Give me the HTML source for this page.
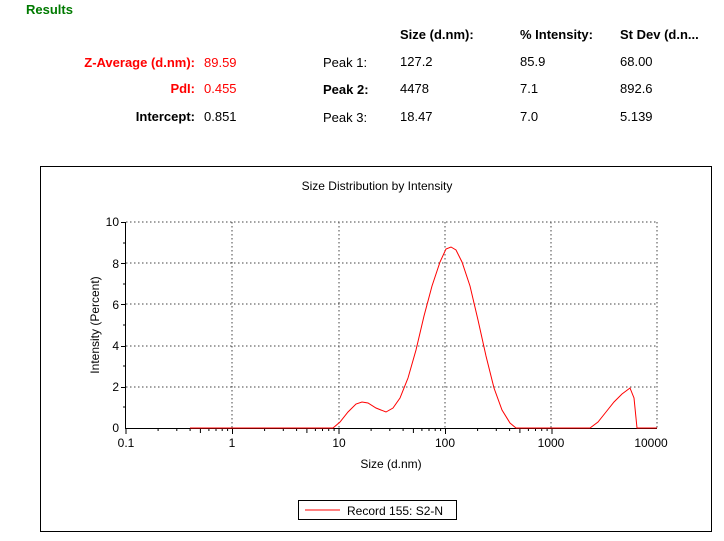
<!DOCTYPE html><html><head><style>body{margin:0;background:#fff;width:724px;height:541px;overflow:hidden;font-family:"Liberation Sans",Arial,sans-serif}
.t{position:absolute;font-size:13px;white-space:nowrap}
.b{font-weight:bold}.r{color:#f00}
</style></head><body>
<div class="t b" style="left:26px;top:2px;color:#007a00">Results</div>
<div class="t b" style="left:400px;top:27px">Size (d.nm):</div>
<div class="t b" style="left:520px;top:27px">% Intensity:</div>
<div class="t b" style="left:620px;top:27px">St Dev (d.n...</div>
<div class="t b r" style="right:529px;top:55px">Z-Average (d.nm):</div>
<div class="t r" style="left:204px;top:55px">89.59</div>
<div class="t b r" style="right:529px;top:81px">PdI:</div>
<div class="t r" style="left:204px;top:81px">0.455</div>
<div class="t b" style="right:529px;top:109px">Intercept:</div>
<div class="t" style="left:204px;top:109px">0.851</div>
<div class="t" style="left:323px;top:55px">Peak 1:</div>
<div class="t b" style="left:323px;top:82px">Peak 2:</div>
<div class="t" style="left:323px;top:110px">Peak 3:</div>
<div class="t" style="left:400px;top:54px">127.2</div><div class="t" style="left:520px;top:54px">85.9</div><div class="t" style="left:620px;top:54px">68.00</div>
<div class="t" style="left:400px;top:81px">4478</div><div class="t" style="left:520px;top:81px">7.1</div><div class="t" style="left:620px;top:81px">892.6</div>
<div class="t" style="left:400px;top:109px">18.47</div><div class="t" style="left:520px;top:109px">7.0</div><div class="t" style="left:620px;top:109px">5.139</div>
<svg style="position:absolute;left:0;top:0" width="724" height="541" font-family="Liberation Sans,Arial,sans-serif" font-size="12">
<rect x="40.5" y="166.5" width="671" height="365" fill="none" stroke="#000"/>
<text x="377" y="190" text-anchor="middle">Size Distribution by Intensity</text>
<g stroke="#444" stroke-dasharray="1.5,2.5" fill="none">
<path d="M126 222H657M126 263H657M126 304H657M126 346H657M126 387H657M232 222V428M339 222V428M445 222V428M551 222V428M657 222V428"/>
</g>
<g stroke="#000" fill="none">
<path d="M125.5 222V428.5H657"/>
<path d="M121 222.5h5M121 263.5h5M121 304.5h5M121 346.5h5M121 387.5h5M123 243h3M123 284h3M123 325h3M123 366h3M123 407h3"/>
</g>
<g stroke="#000">
<line x1="158.1" y1="428" x2="158.1" y2="431"/><line x1="176.8" y1="428" x2="176.8" y2="431"/><line x1="190.1" y1="428" x2="190.1" y2="431"/><line x1="200.4" y1="428" x2="200.4" y2="433"/><line x1="208.9" y1="428" x2="208.9" y2="431"/><line x1="216.0" y1="428" x2="216.0" y2="431"/><line x1="222.2" y1="428" x2="222.2" y2="431"/><line x1="227.6" y1="428" x2="227.6" y2="431"/>
<line x1="264.6" y1="428" x2="264.6" y2="431"/><line x1="283.3" y1="428" x2="283.3" y2="431"/><line x1="296.6" y1="428" x2="296.6" y2="431"/><line x1="306.9" y1="428" x2="306.9" y2="433"/><line x1="315.4" y1="428" x2="315.4" y2="431"/><line x1="322.5" y1="428" x2="322.5" y2="431"/><line x1="328.7" y1="428" x2="328.7" y2="431"/><line x1="334.1" y1="428" x2="334.1" y2="431"/>
<line x1="371.1" y1="428" x2="371.1" y2="431"/><line x1="389.8" y1="428" x2="389.8" y2="431"/><line x1="403.1" y1="428" x2="403.1" y2="431"/><line x1="413.4" y1="428" x2="413.4" y2="433"/><line x1="421.9" y1="428" x2="421.9" y2="431"/><line x1="429.0" y1="428" x2="429.0" y2="431"/><line x1="435.2" y1="428" x2="435.2" y2="431"/><line x1="440.6" y1="428" x2="440.6" y2="431"/>
<line x1="477.6" y1="428" x2="477.6" y2="431"/><line x1="496.3" y1="428" x2="496.3" y2="431"/><line x1="509.6" y1="428" x2="509.6" y2="431"/><line x1="519.9" y1="428" x2="519.9" y2="433"/><line x1="528.4" y1="428" x2="528.4" y2="431"/><line x1="535.5" y1="428" x2="535.5" y2="431"/><line x1="541.7" y1="428" x2="541.7" y2="431"/><line x1="547.1" y1="428" x2="547.1" y2="431"/>
<line x1="126" y1="428" x2="126" y2="434"/><line x1="232.5" y1="428" x2="232.5" y2="434"/><line x1="339" y1="428" x2="339" y2="434"/><line x1="445.5" y1="428" x2="445.5" y2="434"/><line x1="552" y1="428" x2="552" y2="434"/>
</g>
<g text-anchor="end"><text x="119" y="226">10</text><text x="119" y="268">8</text><text x="119" y="309">6</text><text x="119" y="350">4</text><text x="119" y="391">2</text><text x="119" y="432">0</text></g>
<g text-anchor="middle"><text x="126" y="447">0.1</text><text x="232" y="447">1</text><text x="339" y="447">10</text><text x="445" y="447">100</text><text x="551" y="447">1000</text><text x="651" y="447">10000</text>
<text x="391" y="468">Size (d.nm)</text></g>
<text transform="translate(99,325) rotate(-90)" text-anchor="middle">Intensity (Percent)</text>
<polyline fill="none" stroke="#f00" stroke-width="1" points="190,428 333,428 340,422 348,412 356,404 362,402 368,403 376,408 386,412 393,408 400,398 408,378 416,350 424,316 432,286 440,262 446,249 451,247 456,250 462,262 470,286 478,320 486,356 494,388 502,410 510,423 516,428 590,428 598,422 606,412 614,402 622,394 630,388 634,398 637,428 657,428"/>
<rect x="298.5" y="500.5" width="158" height="19" fill="#fff" stroke="#000"/>
<line x1="305" y1="510" x2="340" y2="510" stroke="#f00"/>
<text x="347" y="515">Record 155: S2-N</text>
</svg>
</body></html>
